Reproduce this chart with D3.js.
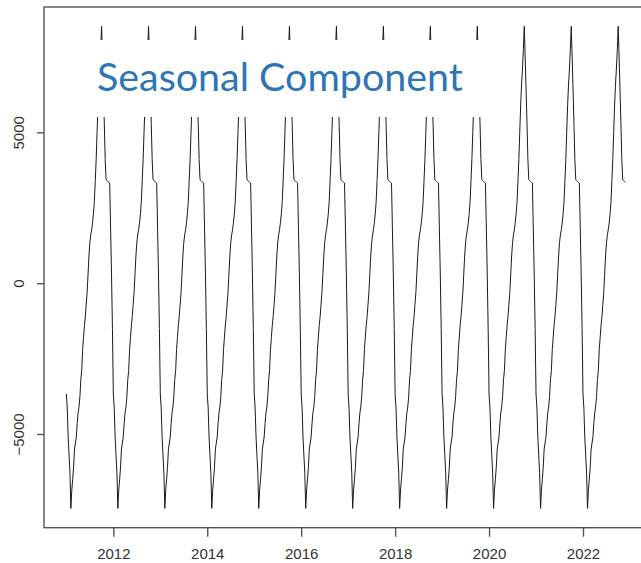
<!DOCTYPE html>
<html>
<head>
<meta charset="utf-8">
<script src="https://cdn.jsdelivr.net/npm/d3@7"></script>
<style>
  html, body { margin: 0; padding: 0; background: #fff; }
  svg { display: block; }
</style>
</head>
<body>
<svg id="chart" width="641" height="563"></svg>
<script>
// ---- data ----
const startYear = 2011;
const frequency = 52;            // weekly observations
const nYears = 12;
const lastWeekIndex = 47;        // series ends in week 47 of its last year
// Seasonal component: one year of weekly values (repeats every year)
const seasonalWeekly = [
  -3674, -4140, -5100, -5700, -6300, -7467, -6860, -6500, -6100, -5500,
  -5300, -5100, -4650, -4300, -4100, -3760, -3200, -2900, -2200, -1800,
  -1400, -1100,  -700,  -300,   300,   900,  1340,  1600,  1770,  2000,
   2300,  2700,  3400,  4100,  5000,  5900,  6600,  7100,  7750,  8516,
   7500,  6400,  5300,  4100,  3428,  3400,  3370,  3345,  3319,  1800,
    300, -1500
];
const yTicks = [-5000, 0, 5000];
const xTicks = [2012, 2014, 2016, 2018, 2020, 2022];
const titleText = "Seasonal Component";

(function () {
// build the time series (t, value)
const series = [];
for (let yr = 0; yr < nYears; yr++) {
  const maxW = (yr === nYears - 1) ? lastWeekIndex : frequency - 1;
  for (let w = 0; w <= maxW; w++) {
    series.push({ t: startYear + yr + w / frequency, v: seasonalWeekly[w] });
  }
}

// ---- layout ----
const svg = d3.select("#chart");
const mLeft = 44, mTop = 7, mBottom = 527.7, mRight = 647.8;

const tExt = d3.extent(series, d => d.t);
const vExt = d3.extent(series, d => d.v);
const tPad = (tExt[1] - tExt[0]) * 0.04;
const vPad = (vExt[1] - vExt[0]) * 0.04;

const x = d3.scaleLinear().domain([tExt[0] - tPad, tExt[1] + tPad]).range([mLeft, mRight]);
const y = d3.scaleLinear().domain([vExt[0] - vPad, vExt[1] + vPad]).range([mBottom, mTop]);

// series line
const line = d3.line().x(d => x(d.t)).y(d => y(d.v));
svg.append("path")
  .datum(series)
  .attr("fill", "none")
  .attr("stroke", "#1a1a1a")
  .attr("stroke-width", 1)
  .attr("stroke-linejoin", "round")
  .attr("d", line);

// frame
svg.append("rect")
  .attr("x", mLeft).attr("y", mTop)
  .attr("width", mRight - mLeft).attr("height", mBottom - mTop)
  .attr("fill", "none")
  .attr("stroke", "#555")
  .attr("stroke-width", 1.4);

// y axis
const yAxis = d3.axisLeft(y).tickValues(yTicks).tickSize(7).tickFormat(d3.format("d"));
const gy = svg.append("g").attr("transform", `translate(${mLeft},0)`).call(yAxis);
gy.select(".domain").remove();
gy.selectAll(".tick line").attr("stroke", "#555").attr("stroke-width", 1.4);
gy.selectAll(".tick text")
  .attr("transform", "rotate(-90)")
  .attr("x", 0).attr("y", -20).attr("dy", 0)
  .attr("text-anchor", "middle")
  .attr("font-family", "'Liberation Sans', Arial, sans-serif")
  .attr("font-size", 15)
  .attr("fill", "#333");

// x axis
const xAxis = d3.axisBottom(x).tickValues(xTicks).tickSize(9).tickFormat(d3.format("d"));
const gx = svg.append("g").attr("transform", `translate(0,${mBottom})`).call(xAxis);
gx.select(".domain").remove();
gx.selectAll(".tick line").attr("stroke", "#555").attr("stroke-width", 1.4);
gx.selectAll(".tick text")
  .attr("y", 31).attr("dy", 0)
  .attr("font-family", "'Liberation Sans', Arial, sans-serif")
  .attr("font-size", 15)
  .attr("fill", "#333");

// title box (white, covering part of the plot)
svg.append("rect")
  .attr("x", 80).attr("y", 40)
  .attr("width", 412).attr("height", 77)
  .attr("fill", "#fff");
const title = svg.append("text")
  .attr("x", 97).attr("y", 90.7)
  .attr("font-family", "Lato, 'Open Sans', sans-serif")
  .attr("font-size", 38)
  .attr("fill", "#2E75B6")
  .text(titleText);
// fit width to ~366px
const w0 = title.node().getComputedTextLength();
title.attr("font-size", 38 * 366 / w0);
})();
</script>
</body>
</html>
